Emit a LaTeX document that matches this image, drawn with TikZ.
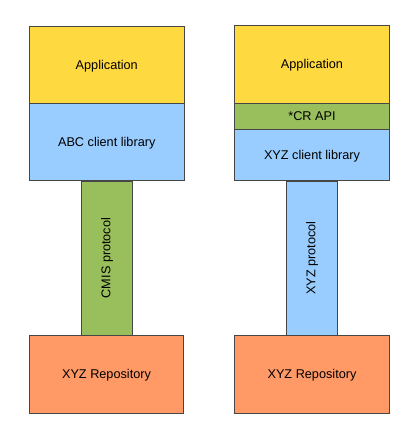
\documentclass[tikz,border=0pt]{standalone}
\usepackage{fontspec}
\setmainfont{Liberation Sans}
\definecolor{appyellow}{RGB}{255,217,64}
\definecolor{libblue}{RGB}{153,204,255}
\definecolor{apigreen}{RGB}{153,190,92}
\definecolor{repoorange}{RGB}{255,153,102}
\definecolor{edgegray}{RGB}{70,70,70}
\begin{document}
\begin{tikzpicture}[x=1pt,y=-1pt,
  blk/.style={draw=edgegray,line width=0.8pt,inner sep=0pt,
    font=\fontsize{12.7}{15}\selectfont,text=black},
  wide/.style={blk,minimum width=154.5pt,text height=9.1pt,text depth=0pt},
  narrow/.style={blk,minimum width=50.6pt,minimum height=154pt}]
\useasboundingbox (0,0) rectangle (419,438);
% left stack
\node[wide,fill=appyellow,minimum height=77pt] (appL) at (106.75,64.5) {Application};
\node[wide,fill=libblue,minimum height=77.7pt] (abc) at (106.75,141.9) {ABC client library};
\node[narrow,fill=apigreen] (cmis) at (107,258) {\rotatebox{90}{CMIS protocol}};
\node[wide,fill=repoorange,minimum height=78.3pt] (repoL) at (106.5,374.2) {XYZ Repository};
% right stack
\node[wide,fill=appyellow,minimum height=77.7pt] (appR) at (312,64.2) {Application};
\node[wide,fill=apigreen,minimum height=26.3pt] (cr) at (312,116.2) {*CR API};
\node[wide,fill=libblue,minimum height=51.4pt] (xyz) at (312,155) {XYZ client library};
\node[narrow,fill=libblue] (xyzp) at (312,258) {\rotatebox{90}{XYZ protocol}};
\node[wide,fill=repoorange,minimum height=78.3pt] (repoR) at (312,374.2) {XYZ Repository};
\end{tikzpicture}
\end{document}
